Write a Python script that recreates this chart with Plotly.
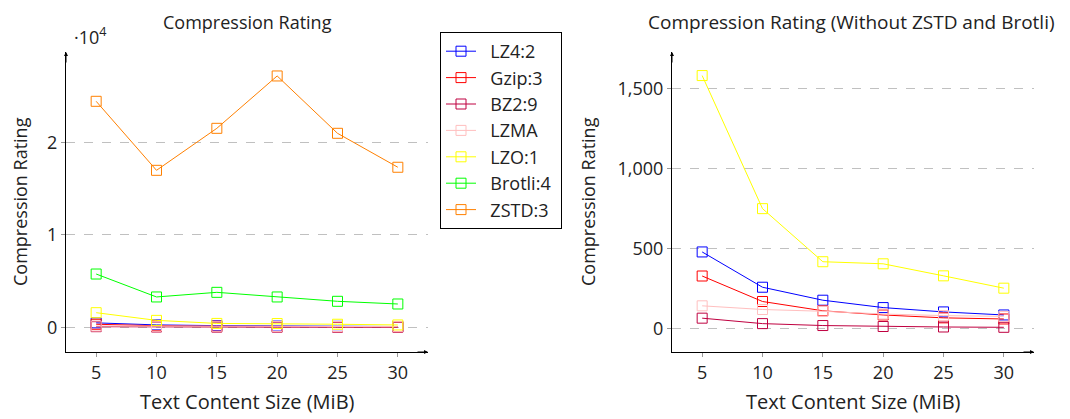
import plotly.graph_objects as go

sizes = [5, 10, 15, 20, 25, 30]

lz4 = [480, 260, 179, 133, 106, 87]
gzip = [330, 171, 113, 87, 69, 62]
bz2 = [67, 33, 21, 15, 12, 10]
lzma = [144, 121, 110, 93, 83, 78]
lzo = [1580, 750, 419, 406, 331, 254]
brotli = [5760, 3280, 3780, 3280, 2810, 2520]
zstd = [24430, 16970, 21510, 27170, 20970, 17300]

series = [
    ("LZ4:2", lz4, "#0000ff"),
    ("Gzip:3", gzip, "#ff0000"),
    ("BZ2:9", bz2, "#bf0040"),
    ("LZMA", lzma, "#ffbfbf"),
    ("LZO:1", lzo, "#ffff00"),
    ("Brotli:4", brotli, "#00ff00"),
    ("ZSTD:3", zstd, "#ff8000"),
]
right_names = {"LZ4:2", "Gzip:3", "BZ2:9", "LZMA", "LZO:1"}

# page body has an 8px margin; compensate so the figure lands where the reference is
OFF = 8
W, H = 1070 - OFF, 419 - OFF
FONT = "Open Sans"
FS = 18
TXT = "#222222"
NB = "\u00a0"

def px(x):
    return (x - OFF) / W

def py(y):
    return (H - (y - OFF)) / H

fig = go.Figure()
for name, vals, col in series:
    fig.add_trace(go.Scatter(
        x=sizes, y=vals, name=NB * 2 + name + NB, mode="lines+markers",
        line=dict(color=col, width=1),
        marker=dict(symbol="square-open", size=10, color=col, line=dict(width=1, color=col)),
        xaxis="x", yaxis="y", showlegend=True,
    ))
for name, vals, col in series:
    if name in right_names:
        fig.add_trace(go.Scatter(
            x=sizes, y=vals, name=name, mode="lines+markers",
            line=dict(color=col, width=1),
            marker=dict(symbol="square-open", size=10, color=col, line=dict(width=1, color=col)),
            xaxis="x2", yaxis="y2", showlegend=False,
        ))

axis_common = dict(
    showline=True, linecolor="black", linewidth=1, mirror=False,
    ticks="outside", ticklen=4, tickcolor="#999999", tickwidth=1,
    tickfont=dict(family=FONT, size=FS, color=TXT),
    zeroline=False,
)

fig.update_layout(
    width=W, height=H,
    margin=dict(l=0, r=0, t=0, b=0),
    paper_bgcolor="white", plot_bgcolor="white",
    font=dict(family=FONT, size=FS, color=TXT),
    xaxis=dict(domain=[px(66), px(428)], range=[2.5, 32.5], tickvals=sizes,
               showgrid=False, anchor="y", **axis_common),
    yaxis=dict(domain=[py(352), py(52)], range=[-2670, 29760],
               tickvals=[0, 10000, 20000], ticktext=["0", "1", "2"],
               showgrid=True, gridcolor="#c0c0c0", griddash="dash", gridwidth=1,
               anchor="x", **axis_common),
    xaxis2=dict(domain=[px(672), px(1034)], range=[2.5, 32.5], tickvals=sizes,
                showgrid=False, anchor="y2", **axis_common),
    yaxis2=dict(domain=[py(352), py(52)], range=[-144, 1727],
                tickvals=[0, 500, 1000, 1500], tickformat=",",
                showgrid=True, gridcolor="#c0c0c0", griddash="dash", gridwidth=1,
                anchor="x2", **axis_common),
    legend=dict(x=px(440), y=py(32), xanchor="left", yanchor="top",
                bordercolor="black", borderwidth=1, bgcolor="white",
                font=dict(family=FONT, size=18, color=TXT),
                itemwidth=30, tracegroupgap=0),
)

def text_ann(text, x, y, size=FS, **kw):
    d = dict(text=text, x=px(x), y=py(y), xref="paper", yref="paper",
             xanchor="center", yanchor="middle", showarrow=False,
             font=dict(size=size, family=FONT, color=TXT))
    d.update(kw)
    return d

ann = []
ann.append(text_ann("Compression Rating", 247, 22))
ann.append(text_ann("Compression Rating (Without ZSTD and Brotli)", 851, 22, size=19))
ann.append(text_ann("·10<sup>4</sup>", 72, 36, xanchor="left"))
for xc in (247, 853):
    ann.append(text_ann("Text Content Size (MiB)", xc, 401, size=20))
for xc in (20, 588):
    ann.append(text_ann("Compression Rating", xc, 202, textangle=-90))
# arrows at axis ends
for xa, ya in (("x", "y"), ("x2", "y2")):
    ann.append(dict(text="", x=0, y=1, xref=f"{xa} domain", yref=f"{ya} domain",
                    ax=0, ay=12, showarrow=True, arrowhead=2, arrowsize=0.8, arrowwidth=1,
                    arrowcolor="black", standoff=0))
    ann.append(dict(text="", x=1, y=0, xref=f"{xa} domain", yref=f"{ya} domain",
                    ax=-12, ay=0, showarrow=True, arrowhead=2, arrowsize=0.8, arrowwidth=1,
                    arrowcolor="black", standoff=0))
fig.update_layout(annotations=ann)

fig.write_html("out.html")
